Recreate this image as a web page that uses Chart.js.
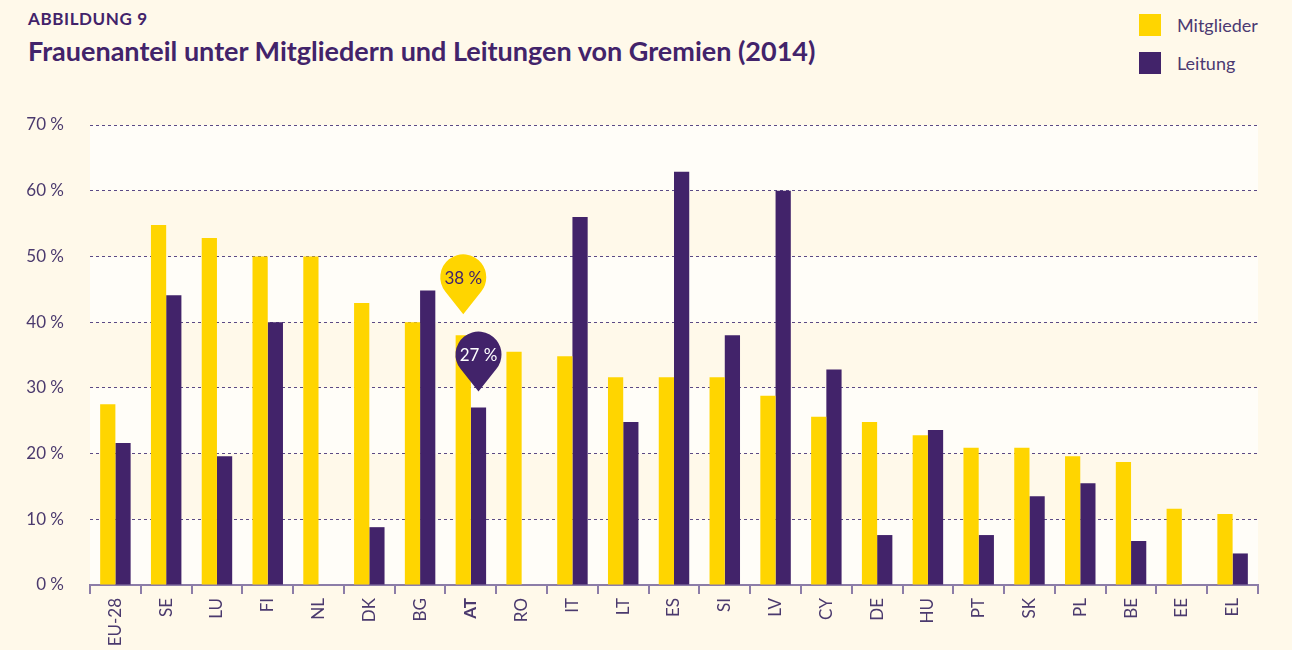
<!DOCTYPE html>
<html>
<head>
<meta charset="utf-8">
<script src="https://cdn.jsdelivr.net/npm/chart.js@4"></script>
<style>
  html, body { margin: 0; padding: 0; background: #FFF9EA; overflow: hidden; }
  body { width: 1292px; height: 650px; position: relative; font-family: Lato, "Open Sans", sans-serif; color: #42236A; }
  #wrap { position: absolute; left: 0; top: 0; width: 1292px; height: 650px; }
  .kicker { position: absolute; left: 28px; top: 8px; font-size: 17px; font-weight: 700; letter-spacing: 0.6px; }
  .title { position: absolute; left: 28px; top: 34px; font-size: 27px; font-weight: 700; }
  .legend { position: absolute; left: 1139px; top: 14px; font-size: 18px; color: #4B3A72; }
  .legend div { height: 22px; line-height: 22px; margin-bottom: 16px; white-space: nowrap; }
  .legend span { display: inline-block; width: 22px; height: 22px; vertical-align: top; margin-right: 16px; }
</style>
</head>
<body>
<div class="kicker">ABBILDUNG 9</div>
<div class="title">Frauenanteil unter Mitgliedern und Leitungen von Gremien (2014)</div>
<div class="legend">
  <div><span style="background:#FFD500"></span>Mitglieder</div>
  <div><span style="background:#42236A"></span>Leitung</div>
</div>
<div id="wrap"><canvas id="chart" width="1292" height="650"></canvas></div>
<script>
const countries = ['EU-28', 'SE', 'LU', 'FI', 'NL', 'DK', 'BG', 'AT', 'RO', 'IT', 'LT', 'ES', 'SI', 'LV', 'CY', 'DE', 'HU', 'PT', 'SK', 'PL', 'BE', 'EE', 'EL'];
const mitglieder = [27.5, 54.8, 52.8, 50, 50, 42.9, 40, 38, 35.5, 34.8, 31.6, 31.6, 31.6, 28.8, 25.6, 24.8, 22.8, 20.9, 20.9, 19.6, 18.7, 11.6, 10.8];
const leitung = [21.6, 44.1, 19.6, 40, null, 8.8, 44.8, 27, null, 56, 24.8, 62.9, 38, 60, 32.8, 7.6, 23.6, 7.6, 13.5, 15.5, 6.7, null, 4.8];
const yTicks = [0, 10, 20, 30, 40, 50, 60, 70];
const highlight = 'AT';

const yellow = '#FFD500';
const purple = '#42236A';
const textColor = '#4B3A6E';

// alternating light bands behind the grid
const bands = {
  id: 'bands',
  beforeDraw(chart) {
    const {ctx, chartArea, scales: {y}} = chart;
    ctx.save();
    for (let i = 0; i < yTicks.length - 1; i += 1) {
      const fill = (i % 2 === 0) ? '#FFFDF8' : '#FFF9EA';
      const top = y.getPixelForValue(yTicks[i + 1]);
      const bottom = y.getPixelForValue(yTicks[i]);
      ctx.fillStyle = fill;
      ctx.fillRect(chartArea.left, top, chartArea.right - chartArea.left, bottom - top);
    }
    ctx.restore();
  }
};

// pin markers over the highlighted country
const pins = {
  id: 'pins',
  afterDatasetsDraw(chart) {
    const {ctx} = chart;
    const idx = countries.indexOf(highlight);
    const specs = [
      {ds: 0, color: yellow, text: '#42236A', lift: 21},
      {ds: 1, color: purple, text: '#FFFFFF', lift: 16}
    ];
    specs.forEach(s => {
      const bar = chart.getDatasetMeta(s.ds).data[idx];
      const value = chart.data.datasets[s.ds].data[idx];
      const tipX = bar.x;
      const tipY = bar.y - s.lift;
      const r = 23;
      const cy = tipY - 37;
      const a = Math.acos(r / 37);
      ctx.save();
      ctx.fillStyle = s.color;
      ctx.beginPath();
      ctx.moveTo(tipX, tipY);
      ctx.arc(tipX, cy, r, Math.PI / 2 + a, Math.PI / 2 - a + 2 * Math.PI, false);
      ctx.closePath();
      ctx.fill();
      ctx.fillStyle = s.text;
      ctx.font = '17px Lato, sans-serif';
      ctx.textAlign = 'center';
      ctx.textBaseline = 'middle';
      ctx.fillText(Math.round(value) + ' %', tipX, cy + 1);
      ctx.restore();
    });
  }
};

new Chart(document.getElementById('chart').getContext('2d'), {
  type: 'bar',
  data: {
    labels: countries,
    datasets: [
      {label: 'Mitglieder', data: mitglieder, backgroundColor: yellow, categoryPercentage: 0.6, barPercentage: 1.0},
      {label: 'Leitung', data: leitung, backgroundColor: purple, categoryPercentage: 0.6, barPercentage: 1.0}
    ]
  },
  options: {
    responsive: false,
    animation: false,
    layout: {padding: {top: 125, right: 34, left: 0, bottom: 0}},
    plugins: {
      legend: {display: false},
      tooltip: {enabled: false}
    },
    scales: {
      x: {
        grid: {display: true, drawOnChartArea: false, drawTicks: true, tickLength: 9, color: '#8C7DA8', lineWidth: 2, offset: true},
        border: {display: true, color: '#8C7DA8', width: 2},
        ticks: {
          autoSkip: false, minRotation: 90, maxRotation: 90, padding: 4, color: textColor,
          font: (c) => ({family: 'Lato, sans-serif', size: 17, weight: (c.tick && c.tick.label === highlight) ? '700' : '400'})
        },
        afterFit(scale) { scale.height = 65; }
      },
      y: {
        min: 0, max: 70,
        ticks: {stepSize: 10, padding: 26, color: textColor, font: {family: 'Lato, sans-serif', size: 17}, callback: v => v + ' %'},
        grid: {drawTicks: false, color: '#5B4A85', lineWidth: 1},
        border: {display: false, dash: [3, 3]},
        afterFit(scale) { scale.width = 90; }
      }
    }
  },
  plugins: [bands, pins]
});
</script>
</body>
</html>
